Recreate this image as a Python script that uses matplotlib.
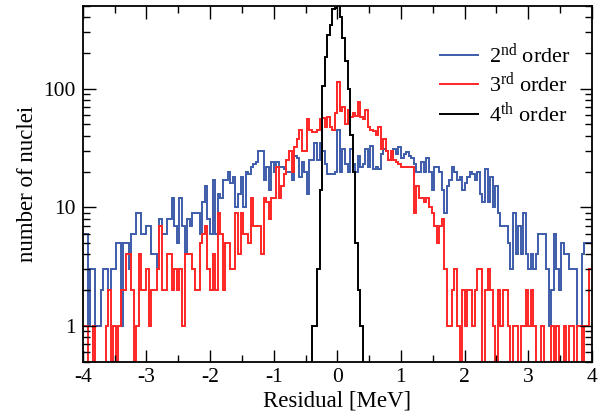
import matplotlib
matplotlib.use("Agg")
import matplotlib.pyplot as plt
import numpy as np
from matplotlib.ticker import MultipleLocator, LogLocator, NullFormatter, FixedFormatter, FixedLocator

plt.rcParams["font.family"] = ["Liberation Serif", "DejaVu Serif"]
plt.rcParams["mathtext.fontset"] = "custom"
plt.rcParams["mathtext.rm"] = "Liberation Serif"
plt.rcParams["mathtext.it"] = "Liberation Serif:italic"
plt.rcParams["axes.unicode_minus"] = False

# residual histogram, 200 bins of 0.04 MeV from -4 to 4
bin_edges = np.linspace(-4.0, 4.0, 201)

order2_counts = [
    6, 6, 1, 3, 3, 1, 1, 2, 3, 3, 2, 3, 3, 5, 5, 1, 5, 5, 3, 6,
    6, 9, 9, 6, 6, 7, 7, 4, 4, 3, 8, 6, 6, 8, 8, 12, 7, 5, 12, 7,
    4, 8, 7, 9, 9, 9, 6, 11, 15, 8, 6, 17, 6, 13, 12, 17, 17, 20, 16, 18,
    10, 13, 18, 10, 20, 19, 22, 23, 24, 30, 30, 17, 22, 14, 24, 20, 24, 22, 22, 21,
    20, 20, 17, 27, 26, 18, 24, 20, 13, 25, 25, 35, 25, 35, 30, 23, 19, 19, 19, 20,
    45, 20, 31, 23, 20, 31, 23, 20, 27, 22, 23, 31, 22, 33, 21, 22, 21, 28, 31, 30,
    25, 27, 31, 28, 32, 26, 28, 29, 27, 26, 23, 20, 20, 24, 20, 26, 20, 14, 22, 22,
    20, 14, 9, 15, 17, 22, 20, 17, 18, 14, 16, 18, 20, 19, 17, 20, 13, 11, 21, 11,
    18, 10, 15, 9, 7, 7, 7, 5, 3, 9, 4, 7, 4, 9, 4, 3, 4, 3, 4, 6,
    6, 6, 3, 1, 2, 6, 3, 2, 5, 4, 4, 3, 3, 3, 1, 1, 4, 5, 5, 5,
]

order3_counts = [
    1, 1, 0, 0, 1, 0, 0, 0, 0, 1, 2, 0, 1, 0, 1, 2, 2, 4, 4, 2,
    0, 1, 4, 2, 2, 3, 1, 2, 2, 3, 7, 2, 2, 4, 4, 2, 3, 2, 3, 1,
    4, 4, 4, 3, 2, 2, 5, 6, 7, 3, 2, 4, 2, 9, 6, 2, 5, 5, 3, 3,
    9, 4, 9, 6, 6, 5, 12, 7, 7, 7, 4, 12, 11, 8, 12, 12, 22, 12, 15, 19,
    25, 30, 20, 32, 38, 45, 30, 30, 55, 45, 43, 43, 45, 55, 57, 48, 58, 48, 45, 63,
    115, 65, 70, 50, 66, 58, 62, 59, 77, 58, 56, 66, 48, 45, 44, 41, 48, 31, 38, 30,
    25, 30, 25, 24, 23, 22, 22, 22, 22, 22, 9, 15, 12, 12, 11, 12, 10, 9, 7, 5,
    7, 8, 3, 1, 1, 2, 3, 1, 0, 2, 1, 2, 2, 1, 2, 3, 3, 0, 2, 3,
    2, 1, 0, 2, 1, 2, 2, 1, 0, 1, 1, 0, 1, 1, 2, 1, 2, 1, 0, 0,
    1, 0, 0, 0, 1, 0, 1, 0, 0, 1, 0, 1, 1, 0, 1, 1, 0, 1, 1, 3,
]

order4_counts = (
    [0] * 90
    + [1, 1, 3, 14, 105, 185, 285, 346, 473, 480,
       520, 400, 268, 172, 99, 41, 20, 5, 2, 1]
    + [0] * 90
)

series = [
    (order2_counts, "#3d5caa", r"2$^{\rm nd}$ order"),
    (order3_counts, "#ff2626", r"3$^{\rm rd}$ order"),
    (order4_counts, "black", r"4$^{\rm th}$ order"),
]

fig = plt.figure(figsize=(6.04, 4.17), dpi=100)
ax = fig.add_axes([0.137, 0.133, 0.843, 0.853])

for counts, color, label in series:
    vals = np.asarray(counts, dtype=float)
    vals = np.where(vals > 0, vals, 0.05)  # empty bins drop below the axis
    ax.stairs(vals, bin_edges, baseline=None, color=color, lw=1.4, label=label)

ax.set_yscale("log")
ax.set_xlim(-4, 4)
ax.set_ylim(0.5, 500)

ax.xaxis.set_major_locator(MultipleLocator(1))
ax.xaxis.set_minor_locator(MultipleLocator(0.5))
ax.yaxis.set_major_locator(FixedLocator([1, 10, 100]))
ax.yaxis.set_major_formatter(FixedFormatter(["1", "10", "100"]))
ax.yaxis.set_minor_locator(LogLocator(base=10, subs=np.arange(2, 10)))
ax.yaxis.set_minor_formatter(NullFormatter())

ax.tick_params(which="both", direction="in", top=True, right=True, labelsize=15.5, width=1.0)
ax.tick_params(which="major", length=9, pad=5)
ax.tick_params(which="minor", length=5)
for sp in ax.spines.values():
    sp.set_linewidth(1.3)

ax.set_xlabel("Residual [MeV]", fontsize=16.5, labelpad=2)
ax.set_ylabel("number of nuclei", fontsize=16.5, labelpad=4)

ax.legend(loc="upper right", bbox_to_anchor=(0.985, 0.935), frameon=False, fontsize=16,
          handlelength=1.7, handletextpad=0.5, labelspacing=0.2, borderaxespad=0.2)

fig.savefig("out.png", dpi=100)
